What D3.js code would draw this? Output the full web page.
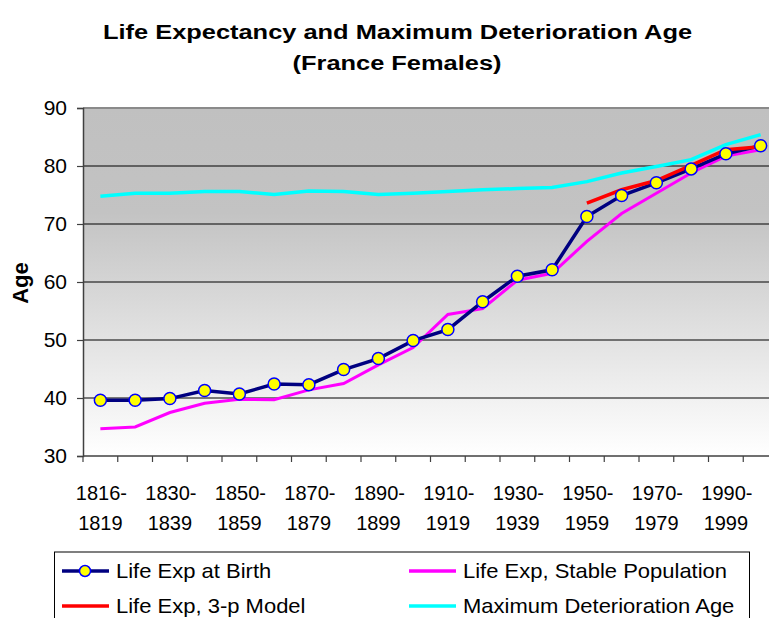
<!DOCTYPE html>
<html>
<head>
<meta charset="utf-8">
<script src="https://cdn.jsdelivr.net/npm/d3@7"></script>
<style>
  body { margin: 0; background: #fff; }
  text { font-family: "Liberation Sans", Arial, sans-serif; }
</style>
</head>
<body>
<div id="chart"></div>
<script>
// periods (every other one gets a label)
var periods = ["1816-1819","1820-1829","1830-1839","1840-1849","1850-1859","1860-1869",
  "1870-1879","1880-1889","1890-1899","1900-1909","1910-1919","1920-1929","1930-1939",
  "1940-1949","1950-1959","1960-1969","1970-1979","1980-1989","1990-1999","2000-2003"]

var lifeExpBirth = [39.6,39.6,39.9,41.3,40.7,42.4,42.3,44.9,46.8,49.9,51.8,56.6,61.0,62.1,71.3,74.9,77.1,79.5,82.1,83.5]
var lifeExpStable = [34.7,35.0,37.5,39.1,39.8,39.7,41.4,42.5,45.7,48.7,54.4,55.4,60.3,61.5,67.0,71.8,75.3,78.8,81.7,82.8]
var lifeExp3p = [null,null,null,null,null,null,null,null,null,null,null,null,null,null,73.6,75.9,77.5,80.1,82.8,83.3]
var maxDeterioration = [74.8,75.3,75.3,75.6,75.6,75.1,75.7,75.6,75.1,75.3,75.6,75.9,76.1,76.3,77.3,78.8,79.9,81.1,83.7,85.4]

var yTicks = [30,40,50,60,70,80,90]

const W = 769, H = 618
const plot = {left: 83, top: 108, right: 778, bottom: 456}

const svg = d3.select("#chart").append("svg")
  .attr("width", W).attr("height", H)

// background gradient like excel
const grad = svg.append("defs").append("linearGradient")
  .attr("id", "bg").attr("x1", 0).attr("y1", 0).attr("x2", 0).attr("y2", 1)
grad.append("stop").attr("offset", "0%").attr("stop-color", "#c0c0c0")
grad.append("stop").attr("offset", "30%").attr("stop-color", "#c3c3c3")
grad.append("stop").attr("offset", "100%").attr("stop-color", "#ffffff")

const x = d3.scaleBand().domain(periods).range([plot.left, plot.right])
const y = d3.scaleLinear().domain([30, 90]).range([plot.bottom, plot.top])
const cx = function(i) { return x(periods[i]) + x.bandwidth() / 2 }

svg.append("rect")
  .attr("x", plot.left).attr("y", plot.top)
  .attr("width", plot.right - plot.left).attr("height", plot.bottom - plot.top)
  .attr("fill", "url(#bg)")

// gridlines
svg.selectAll(".grid")
  .data(yTicks.filter(function(d) { return d > 30 && d < 90 }))
  .join("line")
  .attr("x1", plot.left).attr("x2", plot.right)
  .attr("y1", function(d) { return y(d) }).attr("y2", function(d) { return y(d) })
  .attr("stroke", "#000").attr("stroke-width", 1.2)

// top border
svg.append("line")
  .attr("x1", plot.left).attr("x2", plot.right)
  .attr("y1", plot.top).attr("y2", plot.top)
  .attr("stroke", "#8a8a8a").attr("stroke-width", 2)

// Y axis
const yAxis = svg.append("g")
  .attr("transform", `translate(${plot.left},0)`)
  .call(d3.axisLeft(y).tickValues(yTicks).tickSize(6).tickPadding(10))
yAxis.select(".domain").attr("stroke", "#404040").attr("stroke-width", 1.5)
yAxis.selectAll(".tick line").attr("stroke", "#404040").attr("stroke-width", 1.2)
yAxis.selectAll(".tick text").attr("font-size", 21).attr("fill", "#000")
  .style("font-family", "'Liberation Sans', Arial, sans-serif")

// X axis line + ticks between categories
svg.append("line")
  .attr("x1", plot.left).attr("x2", plot.right)
  .attr("y1", plot.bottom).attr("y2", plot.bottom)
  .attr("stroke", "#404040").attr("stroke-width", 1.5)
svg.selectAll(".xtick")
  .data(periods)
  .join("line")
  .attr("x1", function(d) { return x(d) }).attr("x2", function(d) { return x(d) })
  .attr("y1", plot.bottom).attr("y2", plot.bottom + 6)
  .attr("stroke", "#404040").attr("stroke-width", 1.2)

const xl = svg.selectAll(".xlab")
  .data(periods.filter(function(d, i) { return i % 2 == 0 }))
  .join("text")
  .attr("text-anchor", "middle")
  .attr("font-size", 20)
xl.append("tspan")
  .attr("x", function(d) { return x(d) + x.bandwidth() / 2 + 1 })
  .attr("y", 500)
  .text(function(d) { return d.split("-")[0] + "-" })
xl.append("tspan")
  .attr("x", function(d) { return x(d) + x.bandwidth() / 2 })
  .attr("y", 530)
  .text(function(d) { return d.split("-")[1] })

// lines
const line = d3.line()
  .defined(function(d) { return d != null })
  .x(function(d, i) { return cx(i) })
  .y(function(d) { return y(d) })

svg.append("path").datum(lifeExpStable)
  .attr("d", line).attr("fill", "none").attr("stroke", "#ff00ff").attr("stroke-width", 3)
svg.append("path").datum(maxDeterioration)
  .attr("d", line).attr("fill", "none").attr("stroke", "#00ffff").attr("stroke-width", 3.5)
svg.append("path").datum(lifeExpBirth)
  .attr("d", line).attr("fill", "none").attr("stroke", "#000080").attr("stroke-width", 3.5)
svg.append("path").datum(lifeExp3p)
  .attr("d", line).attr("fill", "none").attr("stroke", "#ff0000").attr("stroke-width", 3.5)

svg.selectAll(".dot")
  .data(lifeExpBirth)
  .join("circle")
  .attr("cx", function(d, i) { return cx(i) })
  .attr("cy", function(d) { return y(d) })
  .attr("r", 6)
  .attr("fill", "#ffff00").attr("stroke", "#0000ff").attr("stroke-width", 1.5)

// titles (the original is stretched sideways)
svg.append("text").attr("transform", "translate(397.5,39) scale(1.27,1)")
  .attr("text-anchor", "middle")
  .attr("font-size", 20).attr("font-weight", "bold")
  .text("Life Expectancy and Maximum Deterioration Age")
svg.append("text").attr("transform", "translate(397,70) scale(1.27,1)")
  .attr("text-anchor", "middle")
  .attr("font-size", 20).attr("font-weight", "bold")
  .text("(France Females)")
svg.append("text")
  .attr("transform", "translate(28,283) rotate(-90) scale(1.1,1.15)")
  .attr("text-anchor", "middle")
  .attr("font-size", 20).attr("font-weight", "bold")
  .text("Age")

// legend
const legend = svg.append("g")
legend.append("rect")
  .attr("x", 54.5).attr("y", 552).attr("width", 695).attr("height", 80)
  .attr("fill", "#fff").attr("stroke", "#000").attr("stroke-width", 1)

var legendItems = [
  {name: "Life Exp at Birth", color: "#000080", marker: true, lx: 62, ly: 571},
  {name: "Life Exp, Stable Population", color: "#ff00ff", marker: false, lx: 409, ly: 571},
  {name: "Life Exp, 3-p Model", color: "#ff0000", marker: false, lx: 62, ly: 606},
  {name: "Maximum Deterioration Age", color: "#00ffff", marker: false, lx: 409, ly: 606}
]
const li = legend.selectAll(".li").data(legendItems).join("g")
li.append("line")
  .attr("x1", function(d) { return d.lx }).attr("x2", function(d) { return d.lx + 47 })
  .attr("y1", function(d) { return d.ly }).attr("y2", function(d) { return d.ly })
  .attr("stroke", function(d) { return d.color }).attr("stroke-width", 3.5)
li.filter(function(d) { return d.marker }).append("circle")
  .attr("cx", function(d) { return d.lx + 23 }).attr("cy", function(d) { return d.ly })
  .attr("r", 5.5).attr("fill", "#ffff00").attr("stroke", "#0000ff").attr("stroke-width", 1.5)
li.append("text")
  .attr("transform", function(d) { return `translate(${d.lx + 54},${d.ly + 7}) scale(1.1,1)` })
  .attr("font-size", 20)
  .text(function(d) { return d.name })
</script>
</body>
</html>
